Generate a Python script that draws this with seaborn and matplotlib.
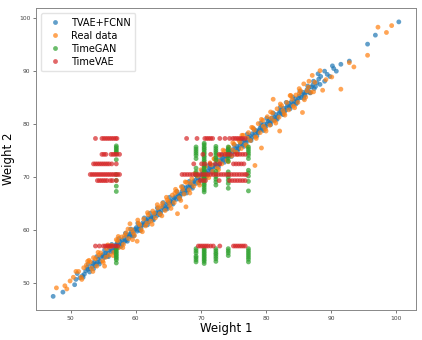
import pandas as pd
import matplotlib
matplotlib.use("Agg")
import matplotlib.pyplot as plt
import seaborn as sns

# TVAE+FCNN points (x, y)
tvae_points = [
    (47.3, 47.4), (48.8, 48.2), (50.6, 49.6), (50.8, 50.6), (51.4, 50.9), (51.8, 51.3),
    (52.3, 52.2), (52.6, 52.5), (52.9, 52.0), (53.3, 53.1), (53.6, 53.9), (53.9, 53.5),
    (54.2, 54.4), (54.5, 54.0), (54.8, 55.1), (55.1, 54.7), (55.4, 55.6), (55.6, 55.0),
    (55.9, 56.2), (56.2, 55.8), (56.5, 56.6), (56.8, 56.3), (57.0, 57.2), (57.3, 56.8),
    (57.6, 57.7), (57.9, 57.3), (58.2, 58.4), (58.5, 58.0), (58.8, 59.0), (59.0, 58.6),
    (59.3, 59.5), (59.6, 59.2), (59.9, 60.1), (60.2, 59.7), (60.5, 60.6), (60.8, 60.3),
    (61.1, 61.3), (61.4, 60.9), (61.7, 61.8), (62.0, 61.5), (62.3, 62.4), (62.6, 62.0),
    (62.9, 63.0), (63.2, 62.6), (63.5, 63.5), (63.8, 63.1), (64.1, 64.2), (64.4, 63.8),
    (64.7, 64.8), (65.0, 64.4), (65.3, 65.4), (65.6, 65.0), (65.9, 66.0), (66.2, 65.7),
    (66.5, 66.6), (66.8, 66.3), (67.1, 67.2), (67.4, 66.8), (67.7, 67.9), (68.0, 67.5),
    (68.3, 68.5), (68.6, 68.1), (68.9, 69.1), (69.2, 68.7), (69.5, 69.8), (69.8, 69.3),
    (70.1, 70.3), (70.4, 69.9), (70.7, 70.9), (71.0, 70.6), (71.3, 71.6), (71.6, 71.2),
    (71.9, 72.1), (72.2, 71.8), (72.5, 72.8), (72.8, 72.4), (73.1, 73.3), (73.4, 73.0),
    (73.7, 73.9), (74.0, 73.5), (74.3, 74.5), (74.6, 74.1), (74.9, 75.1), (75.2, 74.7),
    (75.5, 75.7), (75.8, 75.3), (76.1, 76.3), (76.4, 75.9), (76.7, 76.9), (77.0, 76.5),
    (77.3, 77.4), (77.6, 77.0), (77.9, 78.1), (78.2, 77.7), (78.5, 78.7), (78.8, 78.3),
    (79.1, 79.2), (79.4, 78.9), (79.7, 79.9), (80.0, 79.5), (80.3, 80.4), (80.6, 80.1),
    (80.9, 81.1), (81.2, 80.7), (81.5, 81.7), (81.8, 81.3), (82.1, 82.3), (82.4, 81.9),
    (82.7, 82.9), (83.0, 82.5), (83.3, 83.4), (83.6, 83.1), (83.9, 84.1), (84.2, 83.7),
    (84.5, 84.7), (84.8, 84.3), (85.1, 85.2), (85.4, 84.9), (85.7, 85.9), (86.0, 85.5),
    (86.3, 86.4), (86.7, 85.9), (87.0, 86.9), (87.4, 86.6), (87.8, 87.7), (88.1, 88.4),
    (88.0, 89.4), (89.4, 89.3), (89.0, 88.0), (90.4, 90.4), (90.8, 89.9), (91.5, 91.2),
    (92.8, 91.8), (95.6, 95.0), (96.8, 96.7), (100.4, 99.2),
    (52.1, 51.6), (52.5, 52.9), (53.0, 52.6), (53.4, 53.6), (53.8, 53.2), (54.1, 53.8),
    (54.6, 54.8), (55.0, 55.3), (55.3, 54.9), (55.7, 55.5), (56.0, 56.5), (56.4, 56.0),
    (56.9, 56.9), (57.2, 57.5), (57.5, 57.0), (57.9, 58.0), (58.3, 57.8), (58.6, 58.8),
    (59.1, 59.1), (59.4, 58.8), (59.8, 59.9), (60.1, 60.4), (60.4, 60.0), (60.9, 60.8),
    (61.2, 61.0), (61.6, 61.6), (61.9, 62.2), (62.4, 62.2), (62.8, 62.6), (63.1, 63.2),
    (63.6, 63.3), (63.9, 63.6), (64.3, 64.5), (64.6, 64.0), (65.0, 65.1), (65.4, 65.2),
    (65.8, 65.6), (66.1, 66.2), (66.6, 66.3), (66.9, 66.7), (67.3, 67.5), (67.6, 67.3),
    (68.0, 68.1), (68.4, 68.2), (68.8, 68.6), (69.1, 69.3), (69.6, 69.4), (69.9, 70.0),
    (70.3, 70.6), (70.6, 70.3), (71.1, 71.1), (71.5, 71.4), (71.8, 71.7), (72.3, 72.3),
    (72.6, 72.2), (73.0, 72.9), (73.3, 73.6), (73.8, 73.4), (74.2, 74.0), (74.5, 74.8),
    (74.8, 74.5), (75.3, 75.3), (75.7, 75.2), (76.0, 75.9), (76.3, 76.6), (76.8, 76.4),
    (77.2, 77.0), (77.5, 77.7), (77.8, 77.3), (78.3, 78.2), (78.7, 78.5), (79.0, 78.8),
    (79.3, 79.6), (79.8, 79.3), (80.2, 80.0), (80.5, 80.8), (80.8, 80.4), (81.3, 81.2),
    (81.6, 81.0), (82.0, 81.9), (82.3, 82.6), (82.8, 82.3), (83.2, 83.0), (83.5, 83.8),
    (83.8, 83.4), (84.3, 84.2), (84.7, 84.0), (85.0, 84.8), (85.5, 85.6), (85.9, 85.3),
    (86.2, 86.0), (86.6, 86.8), (87.2, 87.3), (87.6, 87.0), (88.4, 88.9),
    (51.0, 51.7), (51.9, 51.0), (52.7, 53.5), (53.5, 52.6), (54.0, 54.9), (54.4, 53.5),
    (55.2, 56.1), (55.8, 54.9), (56.3, 57.2), (56.7, 55.8), (57.4, 58.3), (57.7, 56.8),
    (58.4, 59.3), (58.7, 57.8), (59.2, 60.1), (59.7, 58.8), (60.3, 61.2), (60.7, 59.8),
    (61.3, 62.2), (61.8, 60.9), (62.2, 63.1), (62.7, 61.8), (63.3, 64.1), (63.7, 62.8),
    (64.2, 65.1), (64.8, 63.9), (65.2, 66.1), (65.7, 64.8), (66.3, 67.2), (66.7, 65.8),
    (67.2, 68.1), (67.8, 66.9), (68.2, 69.1), (68.7, 67.8), (69.3, 70.2), (69.7, 68.8),
    (70.2, 71.1), (70.8, 69.9), (71.2, 72.1), (71.7, 70.8), (72.4, 73.3), (72.7, 71.8),
    (73.2, 74.1), (73.6, 72.7), (74.1, 75.0), (74.7, 73.8), (75.1, 76.0), (75.6, 74.7),
    (76.2, 77.1), (76.6, 75.7), (77.1, 78.0), (77.7, 76.8), (78.1, 79.0), (78.6, 77.7),
    (79.2, 80.1), (79.6, 78.7), (80.1, 81.0), (80.7, 79.8), (81.1, 82.0), (81.7, 80.8),
    (82.2, 83.1), (82.6, 81.7), (83.1, 84.0), (83.7, 82.8), (84.1, 85.0), (84.6, 83.7),
    (85.2, 86.1), (85.8, 84.8), (86.4, 87.1), (86.8, 85.8), (87.3, 88.0), (88.3, 87.4),
    (89.0, 89.9), (89.8, 88.9), (90.2, 90.9),
]

# Real data points (x, y)
real_points = [
    (47.8, 49.0), (49.1, 49.4), (49.4, 48.8), (49.9, 50.3), (50.4, 51.0), (51.2, 52.1),
    (51.6, 51.0), (52.4, 53.3), (52.8, 54.2), (53.2, 52.7), (53.5, 54.7), (54.0, 53.1),
    (54.3, 55.2), (54.9, 54.1), (55.2, 53.1), (55.5, 56.4), (55.9, 55.2), (56.3, 57.0),
    (56.6, 55.7), (57.0, 58.1), (57.4, 56.6), (57.8, 58.6), (58.1, 57.2), (58.5, 59.4),
    (58.9, 58.3), (59.1, 61.1), (59.4, 60.0), (59.8, 58.9), (60.2, 57.8), (60.4, 61.2),
    (60.8, 60.0), (61.2, 62.0), (61.5, 60.7), (61.9, 62.8), (62.3, 61.6), (62.6, 63.5),
    (63.0, 62.2), (63.4, 64.1), (63.7, 63.0), (64.1, 65.0), (64.5, 63.6), (64.8, 65.6),
    (65.2, 64.6), (65.6, 66.5), (65.9, 65.1), (66.3, 67.2), (66.4, 63.0), (66.7, 66.0),
    (67.0, 68.1), (67.4, 66.7), (67.7, 64.3), (67.8, 68.9), (68.2, 67.5), (68.6, 69.6),
    (68.9, 68.2), (69.3, 70.5), (69.6, 68.9), (70.0, 71.3), (70.3, 69.7), (70.7, 71.9),
    (71.0, 70.2), (71.4, 72.6), (71.8, 71.0), (72.1, 73.3), (72.5, 71.6), (72.9, 74.0),
    (73.2, 72.4), (73.6, 74.8), (74.0, 73.1), (74.3, 75.5), (74.7, 73.9), (75.1, 76.1),
    (75.4, 74.6), (75.8, 76.9), (76.2, 75.3), (76.5, 77.8), (76.9, 76.0), (77.3, 78.3),
    (77.6, 76.8), (78.0, 79.2), (78.3, 72.1), (78.4, 77.5), (78.8, 80.0), (79.1, 78.3),
    (79.3, 75.4), (79.5, 80.6), (79.9, 79.0), (80.2, 81.3), (80.6, 79.7), (81.0, 82.0),
    (81.1, 84.6), (81.3, 80.5), (81.7, 82.8), (82.1, 78.6), (82.0, 81.2), (82.4, 83.4),
    (82.8, 81.9), (83.2, 84.0), (83.5, 82.6), (83.8, 85.3), (84.2, 83.3), (84.6, 85.4),
    (84.9, 84.0), (85.3, 86.2), (85.6, 82.1), (85.8, 87.5), (86.1, 85.0), (86.5, 86.9),
    (87.1, 89.1), (86.9, 85.9), (87.5, 87.8), (88.3, 90.0), (88.7, 86.3), (89.2, 88.3),
    (90.1, 88.8), (91.5, 86.5), (92.8, 91.5), (93.5, 90.7), (95.6, 92.9), (97.2, 98.2),
    (98.5, 97.2), (99.3, 98.5),
    (52.0, 52.8), (53.0, 53.9), (53.8, 54.5), (54.6, 55.6), (55.4, 54.8), (56.1, 56.8),
    (57.2, 57.9), (58.3, 58.9), (59.6, 59.4), (60.6, 60.9), (61.7, 61.2), (62.8, 63.1),
    (63.9, 64.4), (65.0, 65.3), (66.0, 66.9), (67.2, 67.6), (68.4, 68.8), (69.5, 70.1),
    (70.5, 70.8), (71.6, 72.2), (72.7, 72.9), (73.8, 74.2), (74.9, 75.0), (76.0, 76.5),
    (77.1, 77.3), (78.2, 78.8), (79.6, 79.5), (80.8, 81.0), (82.6, 82.5), (84.0, 84.6),
    (85.1, 85.7), (86.3, 86.2),
    (50.8, 52.1), (51.7, 50.6), (52.6, 54.0), (53.4, 52.1), (54.2, 55.7), (55.0, 53.8),
    (55.7, 57.1), (56.5, 55.1), (57.3, 58.7), (58.0, 56.6), (58.8, 60.1), (59.5, 58.1),
    (60.3, 61.8), (61.0, 59.6), (61.8, 63.2), (62.5, 61.0), (63.3, 64.7), (64.0, 62.6),
    (64.7, 66.1), (65.4, 64.0), (66.1, 67.6), (66.9, 65.5), (67.6, 69.0), (68.3, 66.9),
    (69.1, 70.6), (69.8, 68.4), (70.5, 72.0), (71.2, 69.8), (72.0, 73.4), (72.7, 71.3),
    (73.4, 75.0), (74.2, 72.8), (74.9, 76.4), (75.6, 74.2), (76.3, 77.8), (77.1, 75.7),
    (77.8, 79.3), (78.5, 77.2), (79.3, 80.8), (80.0, 78.6), (80.7, 82.2), (81.5, 80.1),
    (82.2, 83.7), (82.9, 81.6), (83.7, 85.3), (84.4, 83.0), (85.1, 86.6), (85.9, 84.5),
    (86.6, 88.0), (87.3, 86.0),
]

gan_y_at_57 = [75.8, 75.5, 75.2, 74.9, 74.6, 74.3, 73.2, 70.4, 69.3, 68.2, 67.2,
               56.4, 56.1, 55.8, 55.5, 55.2, 54.9, 54.6, 54.3, 53.7]
gan_y_at_69 = [75.6, 75.2, 74.8, 74.4, 74.0, 73.4, 71.6, 70.9, 70.3,
               56.4, 56.0, 55.6, 55.0, 54.7, 54.3, 53.9]
gan_y_at_70 = [76.3, 76.0, 75.6, 75.3, 75.0, 74.6, 74.3, 73.9, 73.6, 73.2, 72.9, 72.5,
               72.2, 71.8, 71.5, 71.1, 70.8, 70.4, 70.1, 69.7, 69.4, 69.0, 68.6, 68.3,
               67.9, 67.5, 67.1,
               56.4, 56.1, 55.8, 55.5, 55.2, 54.9, 54.6, 54.3, 54.0, 53.6]
gan_y_at_72 = [75.7, 75.3, 74.9, 74.5, 74.1, 73.6, 73.1, 71.0, 70.5, 70.0, 69.5, 69.0, 68.4,
               56.4, 56.0, 55.6, 55.3, 54.9, 54.5, 54.0]
gan_y_at_74 = [75.6, 75.2, 74.8, 74.4, 74.0, 73.5, 72.9, 70.9, 70.4, 69.9, 69.3, 68.7, 67.8,
               56.4, 56.0, 55.6, 55.1]
gan_y_at_77 = [75.6, 75.2, 74.8, 74.4, 74.0, 73.4, 71.2, 70.7, 70.1, 69.1, 67.3,
               56.4, 56.0, 55.6, 55.2, 54.8, 54.4, 53.9]

vae_x_at_772 = [53.8, 54.8, 55.1, 55.4, 55.7, 56.0, 56.3, 56.6, 56.9, 57.1,
                67.8, 69.4, 70.6, 70.9, 71.2, 71.5, 71.8, 72.9, 73.7, 74.4, 74.9,
                75.2, 75.5, 75.8, 76.1, 76.4, 76.8]
vae_x_at_742 = [54.8, 55.1, 55.4, 56.2, 56.5, 56.8, 57.1, 57.5,
                70.3, 71.5, 72.8, 73.2, 73.7, 74.1, 74.5, 75.2, 75.6, 76.0, 76.4, 76.8]
vae_x_at_724 = [53.5, 53.8, 54.1, 54.4, 54.7, 55.0, 55.3, 55.6, 55.9, 56.3, 57.0,
                68.9, 70.1, 70.6, 71.4, 72.2, 72.9, 75.0, 75.4, 75.8, 76.2, 76.6]
vae_x_at_704 = [53.0, 53.3, 53.6, 53.9, 54.2, 54.5, 54.8, 55.1, 55.4, 55.7, 56.0,
                56.3, 56.6, 56.9, 57.2, 57.5,
                67.1, 67.5, 67.9, 68.3, 68.7, 69.1, 69.5, 69.9, 70.3, 70.7, 71.1,
                71.5, 71.9, 72.3, 72.7, 73.1, 73.5, 73.9, 74.3, 74.7, 75.1, 75.5,
                75.9, 76.3, 76.7, 77.0]
vae_x_at_692 = [54.1, 54.4, 54.7, 55.0, 55.3, 55.6, 56.1, 56.4, 57.0,
                69.9, 70.3, 70.7, 72.8, 74.4, 74.8, 75.2, 75.6, 76.0, 76.4, 76.8]
vae_x_at_569 = [53.8, 54.4, 55.0, 55.3, 55.6, 55.9, 56.2, 56.5, 56.9, 57.2,
                69.6, 69.9, 70.2, 70.5, 70.8, 71.1, 71.5, 71.9, 72.9,
                75.0, 75.3, 75.6, 75.9, 76.2, 76.5, 76.8]

gan_points = ([(57.0, y) for y in gan_y_at_57] + [(69.25, y) for y in gan_y_at_69] +
              [(70.5, y) for y in gan_y_at_70] + [(72.3, y) for y in gan_y_at_72] +
              [(74.2, y) for y in gan_y_at_74] + [(77.3, y) for y in gan_y_at_77])
vae_points = ([(x, 77.2) for x in vae_x_at_772] + [(x, 74.2) for x in vae_x_at_742] +
              [(x, 72.4) for x in vae_x_at_724] + [(x, 70.4) for x in vae_x_at_704] +
              [(x, 69.25) for x in vae_x_at_692] + [(x, 56.9) for x in vae_x_at_569])

frames = []
for name, pts in [("TVAE+FCNN", tvae_points), ("Real data", real_points),
                  ("TimeGAN", gan_points), ("TimeVAE", vae_points)]:
    d = pd.DataFrame(pts, columns=["Weight 1", "Weight 2"])
    d["source"] = name
    frames.append(d)
df = pd.concat(frames, ignore_index=True)

fig = plt.figure(figsize=(4.22, 3.4), dpi=100)
ax = fig.add_axes([0.085, 0.088, 0.901, 0.888])
sns.scatterplot(data=df, x="Weight 1", y="Weight 2", hue="source",
                palette=["#1f77b4", "#ff7f0e", "#2ca02c", "#d62728"],
                s=12, alpha=0.7, linewidth=0, ax=ax)

ax.set_xlabel("Weight 1", fontsize=8.5, labelpad=1)
ax.set_ylabel("Weight 2", fontsize=8.5, labelpad=3)
ax.tick_params(labelsize=4.3, length=2, width=0.5, pad=2, colors="#444444")
for sp in ax.spines.values():
    sp.set_color("#888888")
    sp.set_linewidth(0.7)

leg = ax.legend(loc="upper left", fontsize=7, frameon=True, markerscale=1.0,
                handletextpad=0.6, borderpad=0.5, labelspacing=0.3)
leg.get_frame().set_edgecolor("#dddddd")

fig.savefig("out.png", dpi=100)
